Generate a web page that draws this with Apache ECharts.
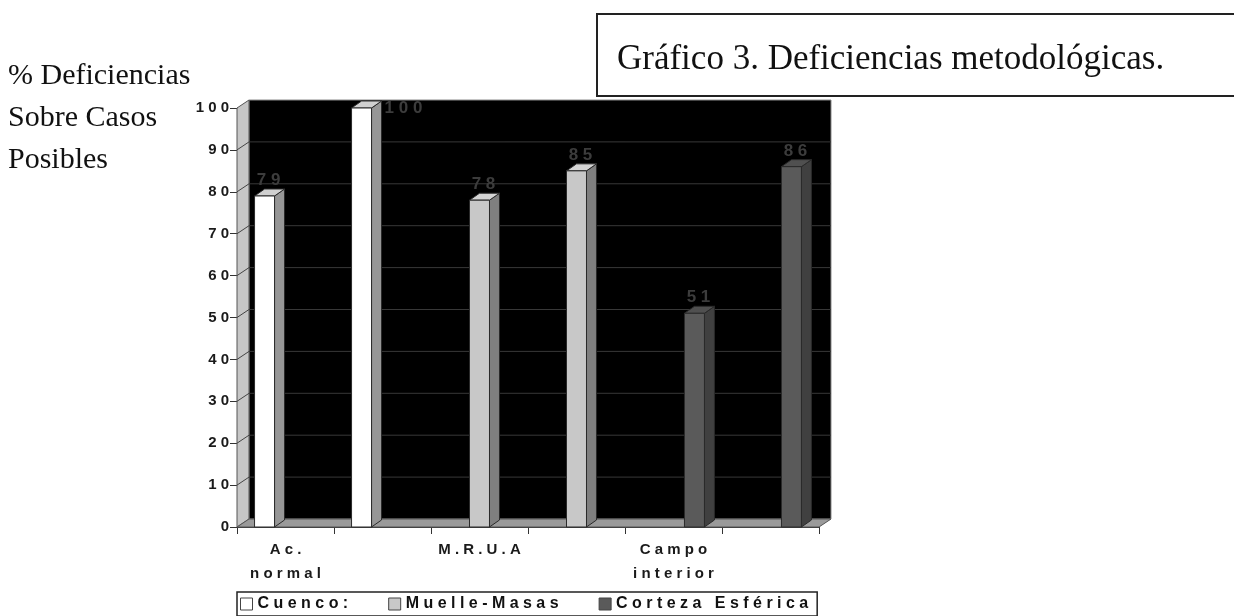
<!DOCTYPE html>
<html><head><meta charset="utf-8">
<script src="https://cdn.jsdelivr.net/npm/echarts@6/dist/echarts.min.js"></script>
<style>html,body{margin:0;padding:0;background:#fff}#c{width:1234px;height:616px}</style>
</head><body><div id="c"></div>
<script>
const categories = ['Ac. normal', '', 'M.R.U.A', '', 'Campo interior', ''];
const seriesNames = ['Cuenco:', 'Muelle-Masas', 'Corteza Esférica'];
const cuenco = [79, 100, null, null, null, null];
const muelle = [null, null, 78, 85, null, null];
const corteza = [null, null, null, null, 51, 86];
const yMin = 0, yMax = 100, yStep = 10;
const titleText = 'Gráfico 3. Deficiencias metodológicas.';
const yName = ['% Deficiencias', 'Sobre Casos', 'Posibles'];

const faceColors = [
  {front:'#ffffff', side:'#969696', top:'#d0d0d0'},
  {front:'#c8c8c8', side:'#7f7f7f', top:'#d4d4d4'},
  {front:'#5a5a5a', side:'#404040', top:'#505050'}
];
const spaced = s => s.split('').join(' ');
const WD = 12, WH = -8;
const BD = 10, BH = -7;

function toPairs(arr){ const out=[]; arr.forEach((v,i)=>{ if(v!=null) out.push([i,v]); }); return out; }

function barRenderer(slot){
  return function(params, api){
    const cat = api.value(0), v = api.value(1);
    const base = api.coord([cat, 0]);
    const topP = api.coord([cat, v]);
    const cw = api.size([1,0])[0];
    const bw = cw*0.206;
    const cx = base[0] + (slot-1)*cw*0.216;
    const x0 = cx - bw/2, x1 = cx + bw/2;
    const yb = base[1], yt = topP[1];
    const c = faceColors[slot];
    const st = {stroke:'#2a2a2a', lineWidth:1};
    const children = [
      {type:'polygon', shape:{points:[[x1,yb],[x1,yt],[x1+BD,yt+BH],[x1+BD,yb+BH]]}, style:Object.assign({fill:c.side}, st)},
      {type:'polygon', shape:{points:[[x0,yt],[x1,yt],[x1+BD,yt+BH],[x0+BD,yt+BH]]}, style:Object.assign({fill:c.top}, st)},
      {type:'rect', shape:{x:x0,y:yt,width:bw,height:yb-yt}, style:Object.assign({fill:c.front}, st)}
    ];
    const atTop = v >= yMax;
    children.push({type:'text', style:{text: spaced(String(v)),
      x: atTop ? x1+BD+3 : cx+4, y: atTop ? yt : yt+BH,
      align: atTop?'left':'center', verticalAlign: atTop?'middle':'bottom',
      fill:'#3c3c3c', font:'bold 17px "Liberation Sans", Arial'}});
    return {type:'group', children};
  };
}

function wallRenderer(params, api){
  const cs = params.coordSys;
  const x=cs.x, y=cs.y, w=cs.width, h=cs.height;
  const children = [
    {type:'rect', shape:{x:x+WD, y:y+WH, width:w, height:h}, style:{fill:'#000', stroke:'#8a8a8a', lineWidth:1}},
    {type:'polygon', shape:{points:[[x,y+h],[x,y],[x+WD,y+WH],[x+WD,y+h+WH]]}, style:{fill:'#c6c6c6', stroke:'#555', lineWidth:1}},
    {type:'polygon', shape:{points:[[x,y+h],[x+w,y+h],[x+w+WD,y+h+WH],[x+WD,y+h+WH]]}, style:{fill:'#9a9a9a', stroke:'#555', lineWidth:1}}
  ];
  for (let v=yMin+yStep; v<yMax; v+=yStep){
    const yy = api.coord([0, v])[1];
    children.push({type:'line', shape:{x1:x+WD,y1:yy+WH,x2:x+w+WD,y2:yy+WH}, style:{stroke:'#383838',lineWidth:1}});
    children.push({type:'line', shape:{x1:x,y1:yy,x2:x+WD,y2:yy+WH}, style:{stroke:'#444',lineWidth:1}});
  }
  return {type:'group', children};
}

const chart = echarts.init(document.getElementById('c'));
const labelFont = {fontFamily:'"Liberation Sans", Arial', fontWeight:'bold', fontSize:15, color:'#1a1a1a'};
chart.setOption({
  animation:false,
  backgroundColor:'#fff',
  color: faceColors.map(c=>c.front),
  grid:{left:237, right:415, top:108, bottom:89},
  xAxis:{type:'category', data:categories, boundaryGap:true,
    axisLine:{lineStyle:{color:'#333', width:1}},
    axisTick:{show:true, length:7, lineStyle:{color:'#333'}, interval:0},
    axisLabel:Object.assign({interval:0, margin:11, lineHeight:24,
      formatter: n => n.split(' ').map(spaced).join('\n')}, labelFont),
    splitLine:{show:false}},
  yAxis:{type:'value', min:yMin, max:yMax, interval:yStep,
    axisLine:{show:true, lineStyle:{color:'#333', width:1}},
    axisTick:{show:true, length:7, lineStyle:{color:'#333'}},
    axisLabel:Object.assign({margin:8, formatter: v => spaced(String(v))}, labelFont),
    splitLine:{show:false}},
  legend:{data:seriesNames.map(n=>({name:n, icon:'rect'})), left:237, top:592,
    padding:[4,9,4,3], itemGap:40, itemWidth:12, itemHeight:12,
    borderColor:'#222', borderWidth:1.5,
    itemStyle:{borderColor:'#444', borderWidth:1},
    formatter: n => spaced(n),
    textStyle:Object.assign({}, labelFont, {fontSize:16, color:'#111'}), selectedMode:false},
  graphic:[
    {type:'rect', shape:{x:597, y:14, width:700, height:82}, style:{fill:'#fff', stroke:'#222', lineWidth:2}},
    {type:'text', x:617, y:60, style:{text:titleText, font:'35px "Liberation Serif", "Times New Roman", serif', fill:'#111', verticalAlign:'middle'}},
    {type:'text', x:8, y:55, style:{text:yName.join('\n'), font:'30px "Liberation Serif", "Times New Roman", serif', lineHeight:42, fill:'#111', verticalAlign:'top'}}
  ],
  series:[
    {type:'custom', name:'walls', renderItem:wallRenderer, data:[[0,0]], silent:true, z:1},
    {type:'custom', name:seriesNames[0], renderItem:barRenderer(0), data:toPairs(cuenco), itemStyle:{color:faceColors[0].front}, z:2},
    {type:'custom', name:seriesNames[1], renderItem:barRenderer(1), data:toPairs(muelle), itemStyle:{color:faceColors[1].front}, z:2},
    {type:'custom', name:seriesNames[2], renderItem:barRenderer(2), data:toPairs(corteza), itemStyle:{color:faceColors[2].front}, z:2}
  ]
});
</script></body></html>
